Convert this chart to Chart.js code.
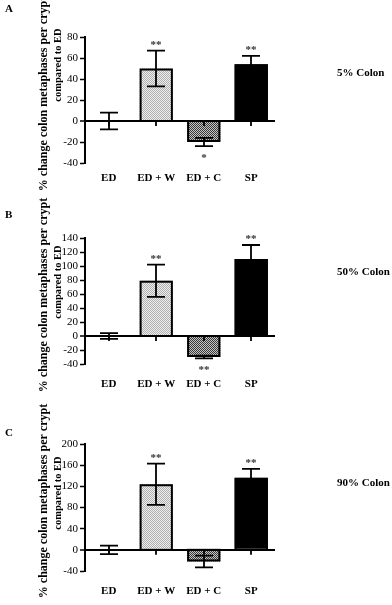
<!DOCTYPE html>
<html><head><meta charset="utf-8">
<script src="https://cdn.jsdelivr.net/npm/chart.js@4.4.1/dist/chart.umd.min.js"></script>
<style>
html,body{margin:0;padding:0;background:#fff;}
#wrap{position:relative;width:392px;height:605px;overflow:hidden;background:#fff;}
#wrap canvas{position:absolute;left:0;top:0;}
.lbl{position:absolute;font-family:"Liberation Serif","Times New Roman",serif;font-weight:bold;font-size:11px;color:#000;line-height:1;white-space:nowrap;}
</style></head><body>
<div id="wrap">
<canvas id="cA" width="392" height="605"></canvas>
<canvas id="cB" width="392" height="605"></canvas>
<canvas id="cC" width="392" height="605"></canvas>
<div class="lbl" id="lA" style="left:5px;top:3px"></div>
<div class="lbl" id="lB" style="left:5px;top:209px"></div>
<div class="lbl" id="lC" style="left:5px;top:427px"></div>
<div class="lbl" id="tA" style="left:337px;top:67px"></div>
<div class="lbl" id="tB" style="left:337px;top:266px"></div>
<div class="lbl" id="tC" style="left:337px;top:477px"></div>
</div>
<script>
// ---- data ----
const categories = ['ED', 'ED + W', 'ED + C', 'SP'];
const panelLetters = ['A', 'B', 'C'];
const panelTitles = ['5% Colon', '50% Colon', '90% Colon'];
const yTitle = ['% change colon metaphases per crypt', 'compared to ED'];

const valuesA = [0, 50, -20, 54];
const errorsA = [8, 17, 4, 8];
const sigA = ['', '**', '*', '**'];
const ticksA = [-40, 80, 20];   // min, max, step

const valuesB = [0, 79, -30, 110];
const errorsB = [4, 23, 2, 20];
const sigB = ['', '**', '**', '**'];
const ticksB = [-40, 140, 20];

const valuesC = [0, 124, -22, 136];
const errorsC = [8, 39, 11, 17];
const sigC = ['', '**', '', '**'];
const ticksC = [-40, 200, 40];

// ---- labels ----
['A','B','C'].forEach((k,i)=>{
  document.getElementById('l'+k).textContent = panelLetters[i];
  document.getElementById('t'+k).textContent = panelTitles[i];
});

const FONT = '"Liberation Serif", "Times New Roman", serif';
const W = 392, H = 605;

function makePattern(ctx, c1, c2){
  const p = document.createElement('canvas'); p.width = 2; p.height = 2;
  const g = p.getContext('2d');
  g.fillStyle = c1; g.fillRect(0,0,2,2);
  g.fillStyle = c2; g.fillRect(0,0,1,1); g.fillRect(1,1,1,1);
  return ctx.createPattern(p, 'repeat');
}

const errPlugin = {
  id: 'errbars',
  afterDatasetsDraw(chart){
    const {ctx} = chart;
    const x = chart.scales.x, y = chart.scales.y;
    const ds = chart.data.datasets[0];
    const meta = chart.getDatasetMeta(0);
    const vals = ds.data, errs = ds.errors, sig = ds.sig;
    const y0 = y.getPixelForValue(0);
    ctx.save();
    ctx.strokeStyle = '#000';
    // bar outlines
    ctx.lineWidth = 2;
    meta.data.forEach(bar => {
      const p = bar.getProps(['x','y','base','width'], true);
      const l = p.x - p.width / 2, t = Math.min(p.y, p.base), h = Math.abs(p.base - p.y);
      if (h > 0.5) ctx.strokeRect(l + 1, t + (p.y < p.base ? 1 : -1), p.width - 2, h);
    });
    ctx.lineWidth = 1.8;
    vals.forEach((v,i)=>{
      const px = Math.round(x.getPixelForValue(i));
      ctx.beginPath(); ctx.moveTo(px, y0); ctx.lineTo(px, y0 + 5); ctx.stroke();
      const e = errs[i];
      const yh = y.getPixelForValue(v + e), yl = y.getPixelForValue(v - e);
      ctx.beginPath();
      ctx.moveTo(px, yh); ctx.lineTo(px, yl);
      ctx.moveTo(px - 9, yh); ctx.lineTo(px + 9, yh);
      ctx.moveTo(px - 9, yl); ctx.lineTo(px + 9, yl);
      ctx.stroke();
      if (sig[i]) {
        ctx.fillStyle = '#333';
        ctx.font = 'bold 11px ' + FONT;
        ctx.textAlign = 'center';
        ctx.textBaseline = 'alphabetic';
        const cy = v >= 0 ? Math.min(yh, y0) - 9 : Math.max(yl, y0) + 9;
        ctx.fillText(sig[i], px, cy + 6);
      }
    });
    ctx.restore();
  }
};

function titlePlugin(geo){
  return {
    id: 'ytitle',
    afterDraw(chart){
      const ctx = chart.ctx;
      ctx.save();
      ctx.fillStyle = '#000';
      ctx.textAlign = 'center';
      ctx.textBaseline = 'middle';
      ctx.save();
      ctx.translate(44, geo.t1);
      ctx.rotate(-Math.PI / 2);
      ctx.font = 'bold 12px ' + FONT;
      ctx.fillText(yTitle[0], 0, 0, 196);
      ctx.restore();
      ctx.save();
      ctx.translate(58, geo.t2);
      ctx.rotate(-Math.PI / 2);
      ctx.font = 'bold 10.5px ' + FONT;
      ctx.fillText(yTitle[1], 0, 0, 74);
      ctx.restore();
      ctx.restore();
    }
  };
}

function makeChart(id, values, errors, sig, tk, geo){
  const cv = document.getElementById(id);
  const ctx = cv.getContext('2d');
  const patW = makePattern(ctx, '#eeeeee', '#b0b0b0');
  const patC = makePattern(ctx, '#c4c4c4', '#3a3a3a');
  return new Chart(ctx, {
    type: 'bar',
    data: {
      labels: categories,
      datasets: [{
        data: values,
        errors: errors,
        sig: sig,
        backgroundColor: ['#ffffff', patW, patC, '#000000'],
        borderWidth: 0,
        inflateAmount: 0,
        barPercentage: 0.7,
        categoryPercentage: 1
      }]
    },
    options: {
      responsive: false,
      animation: false,
      devicePixelRatio: 1,
      layout: { padding: { top: geo.top, right: W - geo.right, left: 0, bottom: 0 } },
      plugins: { legend: { display: false }, tooltip: { enabled: false } },
      scales: {
        x: {
          type: 'category',
          offset: true,
          grid: { display: false },
          border: { display: false },
          ticks: { color: '#000', font: { family: FONT, size: 11, weight: 'bold' }, padding: geo.labelPad, maxRotation: 0, autoSkip: false },
          afterFit: s => { s.height = H - geo.bottom; }
        },
        y: {
          min: tk[0], max: tk[1],
          ticks: { stepSize: tk[2], autoSkip: false, color: '#000', font: { family: FONT, size: 11 }, padding: 2 },
          border: { display: true, color: '#000', width: 2 },
          grid: {
            drawOnChartArea: true,
            color: c => (c.tick && c.tick.value === 0) ? '#000' : 'rgba(0,0,0,0)',
            lineWidth: c => (c.tick && c.tick.value === 0) ? 2 : 1,
            tickColor: '#000', tickWidth: 1.5, tickLength: 5
          },
          title: { display: false },
          afterFit: s => { s.width = geo.left; }
        }
      }
    },
    plugins: [errPlugin, titlePlugin(geo)]
  });
}

makeChart('cA', valuesA, errorsA, sigA, ticksA, { top: 37, bottom: 163, left: 85, right: 275, labelPad: 1, t1: 94, t2: 65 });
makeChart('cB', valuesB, errorsB, sigB, ticksB, { top: 238, bottom: 364, left: 85, right: 275, labelPad: 6, t1: 295, t2: 282 });
makeChart('cC', valuesC, errorsC, sigC, ticksC, { top: 444, bottom: 571, left: 85, right: 275, labelPad: 6, t1: 501, t2: 493 });
</script>
</body></html>
